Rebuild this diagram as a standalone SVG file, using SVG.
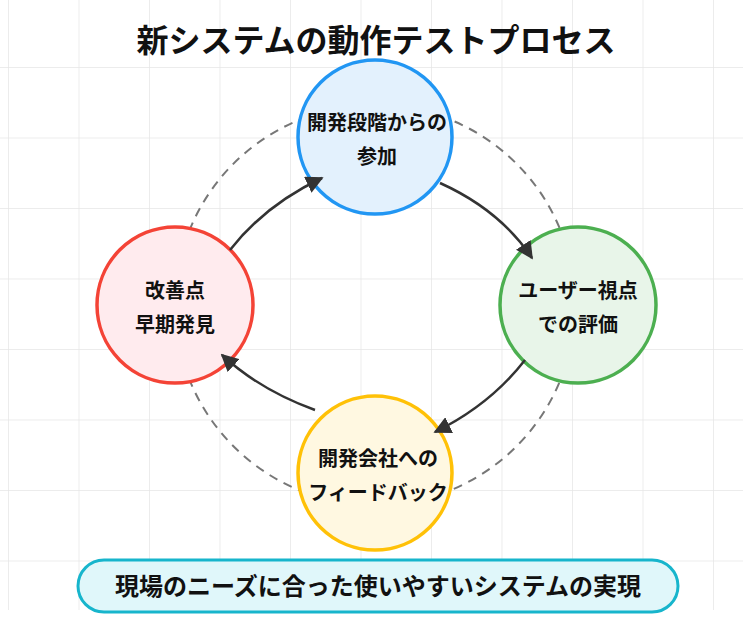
<svg xmlns="http://www.w3.org/2000/svg" width="743" height="626" viewBox="0 0 743 626">
<defs>
<pattern id="g" x="8" y="-3.5" width="70.5" height="70.5" patternUnits="userSpaceOnUse"><path d="M0 0V70.5M0 0H70.5" fill="none" stroke="#e6e6e6" stroke-width="1.5"/></pattern>
<marker id="a" viewBox="0 0 10 10" refX="9" refY="5" markerWidth="7" markerHeight="7" orient="auto"><path d="M0 0L10 5L0 10z" fill="#333"/></marker>
<style>
text{font-family:"Noto Sans CJK JP","Noto Sans",sans-serif;font-weight:bold;text-anchor:middle;fill:#111}
.n{font-size:20px}
.c{stroke-width:3.5}
.e{fill:none;stroke:#333;stroke-width:2.5;marker-end:url(#a)}
</style>
</defs>
<rect width="743" height="626" fill="#fff"/>
<rect width="743" height="610" fill="url(#g)"/>
<text x="376" y="52" style="font-size:32px">新システムの動作テストプロセス</text>
<circle cx="375" cy="305" r="200" fill="none" stroke="#777" stroke-width="2" stroke-dasharray="9,7"/>
<g id="n1"><circle class="c" cx="375" cy="137" r="77" fill="#e3f1fd" stroke="#2196f3"/><text class="n" x="377" y="130">開発段階からの</text><text class="n" x="377" y="164">参加</text></g>
<g id="n2"><circle class="c" cx="578" cy="305" r="78" fill="#e8f5e9" stroke="#4caf50"/><text class="n" x="578" y="298">ユーザー視点</text><text class="n" x="578" y="332">での評価</text></g>
<g id="n3"><circle class="c" cx="375" cy="473" r="77" fill="#fff8e1" stroke="#ffc107"/><text class="n" x="378" y="466">開発会社への</text><text class="n" x="378" y="500">フィードバック</text></g>
<g id="n4"><circle class="c" cx="175" cy="305" r="78" fill="#ffebee" stroke="#f44336"/><text class="n" x="175" y="298">改善点</text><text class="n" x="175" y="332">早期発見</text></g>
<g id="connectors">
<path class="e" d="M440 183Q500 210 532 258"/>
<path class="e" d="M525 360Q490 405 435 432"/>
<path class="e" d="M315 410Q260 390 222 355"/>
<path class="e" d="M230 250Q265 205 322 178"/>
</g>
<g id="banner"><rect x="78" y="560" width="600" height="52" rx="26" fill="#e0f7fa" stroke="#17b5cc" stroke-width="3"/><text x="378" y="595" style="font-size:24px">現場のニーズに合った使いやすいシステムの実現</text></g>
</svg>
